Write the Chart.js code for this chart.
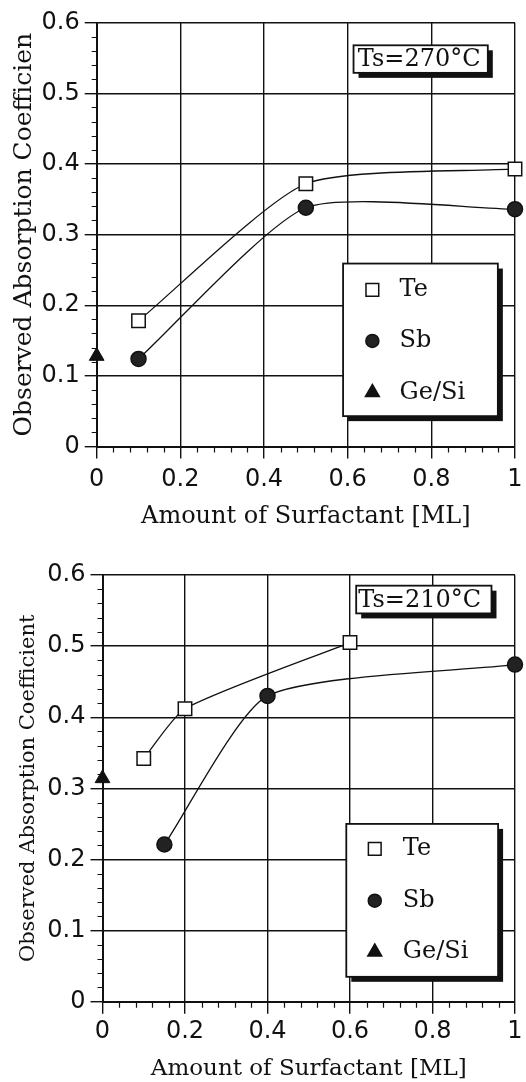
<!DOCTYPE html>
<html>
<head>
<meta charset="utf-8">
<title>Absorption coefficient vs surfactant</title>
<script src="https://cdn.jsdelivr.net/npm/chart.js"></script>
<style>
  html, body { margin: 0; padding: 0; background: #fff; overflow: hidden; }
  canvas.plot { position: absolute; left: 0; }
  #chart270 { top: 0; }
  #chart210 { top: 540px; }
</style>
</head>
<body>
<canvas id="chart270" class="plot" width="526" height="540"></canvas>
<canvas id="chart210" class="plot" width="526" height="552"></canvas>
<script>
// --- data: amount of surfactant [ML] and observed absorption coefficient ---
// Ts = 270°C
const te270X = [0.1, 0.5, 1.0];
const te270Y = [0.178, 0.372, 0.393];
const sb270X = [0.1, 0.5, 1.0];
const sb270Y = [0.124, 0.338, 0.336];
const geSi270X = [0];
const geSi270Y = [0.128];

// Ts = 210°C
const te210X = [0.1, 0.2, 0.6];
const te210Y = [0.342, 0.412, 0.505];
const sb210X = [0.15, 0.4, 1.0];
const sb210Y = [0.221, 0.430, 0.474];
const geSi210X = [0];
const geSi210Y = [0.314];

const seriesNames = ['Te', 'Sb', 'Ge/Si'];
const xTickValues = [0, 0.2, 0.4, 0.6, 0.8, 1];
const yTickValues = [0, 0.1, 0.2, 0.3, 0.4, 0.5, 0.6];

const INK = '#111';
const SERIF = '"DejaVu Serif", "Liberation Serif", serif';
const SANS = '"DejaVu Sans", sans-serif';

function toPoints(xs, ys) {
    return xs.map((x, i) => ({ x: x, y: ys[i] }));
}

function buildDatasets(teX, teY, sbX, sbY, gX, gY) {
    const common = {
        borderColor: INK,
        borderWidth: 1.3,
        pointBorderColor: INK,
        pointBorderWidth: 1.5,
        pointHoverRadius: 0,
        tension: 0.2,
        clip: false
    };
    return [
        Object.assign({}, common, {
            label: seriesNames[0],
            data: toPoints(teX, teY),
            pointStyle: 'rect',
            pointRadius: 9.5,
            pointBackgroundColor: '#fff'
        }),
        Object.assign({}, common, {
            label: seriesNames[1],
            data: toPoints(sbX, sbY),
            pointStyle: 'circle',
            pointRadius: 7.5,
            pointBackgroundColor: '#222'
        }),
        Object.assign({}, common, {
            label: seriesNames[2],
            data: toPoints(gX, gY),
            showLine: false,
            pointStyle: 'triangle',
            pointRadius: 8.5,
            pointBorderWidth: 1,
            pointBackgroundColor: INK
        })
    ];
}

// short tick marks between the labelled ones
const minorTicks = {
    id: 'minorTicks',
    afterDraw(chart) {
        const { ctx, chartArea, scales } = chart;
        ctx.save();
        ctx.strokeStyle = INK;
        ctx.lineWidth = 1.2;
        ctx.beginPath();
        for (let i = 1; i < 30; i++) {
            if (i % 5 === 0) continue;
            const py = Math.round(scales.y.getPixelForValue(i * 0.02)) + 0.5;
            ctx.moveTo(chartArea.left - 5, py);
            ctx.lineTo(chartArea.left, py);
        }
        for (let i = 1; i < 25; i++) {
            if (i % 5 === 0) continue;
            const px = Math.round(scales.x.getPixelForValue(i * 0.04)) + 0.5;
            ctx.moveTo(px, chartArea.bottom);
            ctx.lineTo(px, chartArea.bottom + 6);
        }
        ctx.stroke();
        ctx.restore();
    }
};

// white box with a heavy drop shadow, placed in data units
function shadowBox(ctx, x, y, box, shadow) {
    const l = x.getPixelForValue(box[0]);
    const r = x.getPixelForValue(box[1]);
    const t = y.getPixelForValue(box[3]);
    const b = y.getPixelForValue(box[2]);
    ctx.fillStyle = INK;
    ctx.fillRect(l + shadow, t + shadow, r - l, b - t);
    ctx.fillStyle = '#fff';
    ctx.fillRect(l, t, r - l, b - t);
    ctx.strokeStyle = INK;
    ctx.lineWidth = 1.8;
    ctx.strokeRect(l, t, r - l, b - t);
}

// legend panel and temperature tag
const boxedLegend = {
    id: 'boxedLegend',
    afterDatasetsDraw(chart, args, opts) {
        const { ctx, scales: { x, y } } = chart;
        ctx.save();

        shadowBox(ctx, x, y, opts.tagBox, 5);
        ctx.fillStyle = INK;
        ctx.font = '24px ' + SERIF;
        ctx.textBaseline = 'middle';
        ctx.textAlign = 'left';
        ctx.fillText(opts.tagText, x.getPixelForValue(opts.tagTextX),
            y.getPixelForValue((opts.tagBox[2] + opts.tagBox[3]) / 2) + 1);

        shadowBox(ctx, x, y, opts.box, 5);
        const markX = x.getPixelForValue(opts.markX);
        const textX = x.getPixelForValue(opts.textX);
        chart.data.datasets.forEach((ds, i) => {
            const py = y.getPixelForValue(opts.rows[i]);
            ctx.fillStyle = ds.pointBackgroundColor;
            ctx.strokeStyle = INK;
            ctx.lineWidth = 1.5;
            Chart.helpers.drawPoint(ctx, {
                pointStyle: ds.pointStyle,
                rotation: 0,
                radius: opts.markRadius[i],
                borderWidth: 1.5
            }, markX, py);
            ctx.fillStyle = INK;
            ctx.font = '24px ' + SERIF;
            ctx.fillText(ds.label, textX, py);
        });
        ctx.restore();
    }
};

function buildChart(canvasId, datasets, geom) {
    const ctx = document.getElementById(canvasId).getContext('2d');
    return new Chart(ctx, {
        type: 'line',
        data: { datasets: datasets },
        options: {
            responsive: false,
            animation: false,
            events: [],
            layout: { padding: { top: geom.top, right: geom.right, left: 0, bottom: 0 } },
            plugins: {
                legend: { display: false },
                tooltip: { enabled: false },
                boxedLegend: geom.legend
            },
            scales: {
                x: {
                    type: 'linear',
                    min: 0,
                    max: 1,
                    afterBuildTicks: scale => {
                        scale.ticks = xTickValues.map(v => ({ value: v }));
                    },
                    afterFit: scale => {
                        scale.height = geom.xHeight;
                        scale.paddingLeft = 0;
                        scale.paddingRight = 0;
                    },
                    grid: { color: INK, lineWidth: 1.4, tickLength: 12, tickColor: INK },
                    border: { color: INK, width: 2 },
                    ticks: {
                        color: INK,
                        padding: geom.xTickPad,
                        maxRotation: 0,
                        font: { family: SANS, size: 24 },
                        callback: v => String(+v.toFixed(2))
                    },
                    title: {
                        display: true,
                        text: 'Amount of Surfactant [ML]',
                        color: INK,
                        font: { family: SERIF, size: geom.xTitleSize },
                        padding: { top: 0, bottom: geom.xTitlePad }
                    }
                },
                y: {
                    type: 'linear',
                    min: 0,
                    max: 0.6,
                    afterBuildTicks: scale => {
                        scale.ticks = yTickValues.map(v => ({ value: v }));
                    },
                    afterFit: scale => {
                        scale.width = geom.yWidth;
                    },
                    grid: { color: INK, lineWidth: 1.4, tickLength: 12, tickColor: INK },
                    border: { color: INK, width: 2 },
                    ticks: {
                        color: INK,
                        padding: 5,
                        font: { family: SANS, size: 24 },
                        callback: v => String(+v.toFixed(2))
                    },
                    title: {
                        display: true,
                        text: geom.yTitle,
                        color: INK,
                        font: { family: SERIF, size: geom.yTitleSize },
                        padding: { top: geom.yTitlePad, bottom: 0 }
                    }
                }
            }
        },
        plugins: [minorTicks, boxedLegend]
    });
}

buildChart('chart270',
    buildDatasets(te270X, te270Y, sb270X, sb270Y, geSi270X, geSi270Y),
    {
        top: 22.7, right: 7, xHeight: 93.5, yWidth: 96.7,
        xTickPad: 7.2, xTitleSize: 24, xTitlePad: 8.6,
        yTitle: 'Observed Absorption Coefficien', yTitleSize: 25, yTitlePad: 9,
        legend: {
            tagBox: [0.614, 0.935, 0.529, 0.568], tagText: 'Ts=270°C', tagTextX: 0.624,
            box: [0.589, 0.959, 0.043, 0.259],
            rows: [0.2216, 0.1495, 0.0765], markX: 0.659, textX: 0.724,
            markRadius: [9, 6.5, 8]
        }
    });

buildChart('chart210',
    buildDatasets(te210X, te210Y, sb210X, sb210Y, geSi210X, geSi210Y),
    {
        top: 35, right: 3, xHeight: 90.3, yWidth: 102.5,
        xTickPad: 4, xTitleSize: 23, xTitlePad: 8.8,
        yTitle: 'Observed Absorption Coefficient', yTitleSize: 21, yTitlePad: 16.4,
        legend: {
            tagBox: [0.615, 0.943, 0.546, 0.585], tagText: 'Ts=210°C', tagTextX: 0.620,
            box: [0.591, 0.959, 0.035, 0.250],
            rows: [0.215, 0.142, 0.070], markX: 0.660, textX: 0.728,
            markRadius: [9, 6.5, 8]
        }
    });
</script>
</body>
</html>
